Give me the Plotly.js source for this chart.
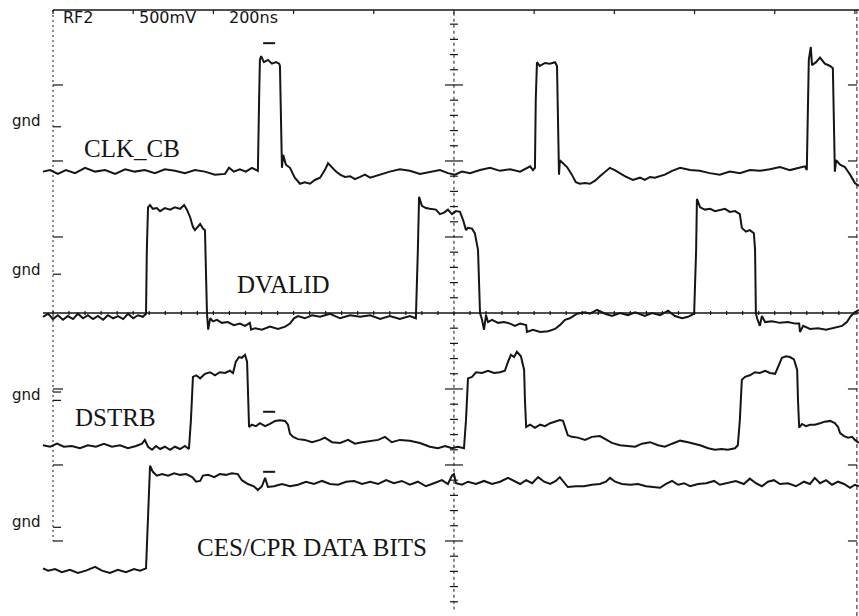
<!DOCTYPE html>
<html><head><meta charset="utf-8">
<script src="https://cdn.plot.ly/plotly-3.0.1.min.js"></script>
<style>html,body{margin:0;padding:0;background:#fff}#chart{width:859px;height:616px}</style>
</head><body><div id="chart"></div>
<script>
// Time in ns (200 ns/div). Level in screen divisions (500 mV/div, 0 = screen centre line).
const clkT = [-25,-7,12,32,55,80,105,130,155,180, 204,229,254,279,304,329,354,379,404,429,
  439,451,466,481,496,506,511,514,516,519, 526,536,546,556,564,566,569,571,574,581,
  591,603,616,628,641,653,666,678,686,696, 706,716,728,741,753,766,778,791,803,815,
  840,865,890,915,940,965,985,1002,1020,1040, 1065,1090,1115,1140,1165,1190,1197,1202,1204,1207,
  1214,1227,1239,1252,1257,1259,1262,1264,1272,1282, 1294,1304,1314,1327,1339,1352,1364,1377,1389,1401,
  1414,1426,1446,1464,1476,1489,1501,1514,1526,1544, 1564,1589,1613,1638,1663,1688,1713,1738,1763,1788,
  1813,1838,1863,1875,1880,1883,1885,1890,1893,1903, 1913,1925,1938,1945,1948,1950,1953,1963,1975,1988,
  2000,2010];
const clkV = [1.86,1.88,1.83,1.88,1.84,1.91,1.86,1.88,1.83,1.89, 1.86,1.88,1.84,1.89,1.87,1.84,1.88,1.86,1.82,1.83,
  1.91,1.86,1.89,1.86,1.91,1.88,1.87,2.80,3.33,3.38, 3.30,3.33,3.28,3.30,3.28,3.25,2.54,1.91,2.08,1.95,
  1.91,1.78,1.70,1.72,1.70,1.75,1.78,1.88,1.97,1.91, 1.86,1.82,1.79,1.80,1.76,1.79,1.82,1.78,1.80,1.82,
  1.86,1.89,1.87,1.83,1.86,1.88,1.84,1.82,1.86,1.84, 1.88,1.91,1.87,1.89,1.86,1.93,1.88,1.91,2.80,3.30,
  3.25,3.29,3.28,3.30,3.25,2.54,1.82,2.01,1.97,1.92, 1.82,1.72,1.70,1.71,1.70,1.74,1.80,1.86,1.91,1.88,
  1.84,1.80,1.75,1.78,1.75,1.79,1.78,1.80,1.82,1.87, 1.91,1.88,1.87,1.84,1.82,1.86,1.84,1.88,1.87,1.89,
  1.92,1.88,1.91,1.93,1.88,2.80,3.33,3.50,3.26,3.30, 3.36,3.28,3.25,3.22,2.54,1.86,2.01,1.95,1.92,1.82,
  1.71,1.67];

const dvT = [-25,-12,0,12,25,37,50,62,75,87, 100,112,125,137,150,162,175,187,200,212,
  224,232,234,237,242,249,259,267,279,292, 304,317,327,334,342,349,354,362,367,374,
  379,382,384,387,392,399,409,421,436,451, 466,479,491,494,504,521,541,561,579,591,
  601,611,628,646,666,691,716,741,766,791, 816,840,865,890,905,910,913,920,930,940,
  955,965,975,985,995,1005,1015,1023,1030,1035, 1045,1052,1060,1065,1070,1075,1080,1085,1095,1110,
  1125,1140,1152,1165,1180,1182,1197,1215,1235,1252, 1264,1277,1289,1307,1327,1339,1357,1377,1394,1414,
  1434,1452,1476,1494,1514,1534,1551,1569,1584,1599, 1604,1606,1614,1626,1639,1651,1664,1676,1688,1701,
  1713,1718,1728,1738,1748,1751,1753,1756,1763,1768, 1776,1793,1813,1833,1851,1861,1863,1871,1888,1908,
  1928,1948,1968,1980,1990,2000,2010];
const dvV = [-0.05,-0.01,-0.08,-0.03,-0.09,-0.04,-0.08,-0.01,-0.07,-0.03, -0.08,-0.04,-0.09,-0.03,-0.07,-0.04,-0.08,-0.01,-0.07,-0.03,
  -0.05,-0.01,0.83,1.39,1.42,1.37,1.38,1.34,1.38,1.36, 1.39,1.37,1.42,1.36,1.26,1.13,1.09,1.14,1.17,1.11,
  1.09,0.43,0,-0.22,-0.07,-0.11,-0.09,-0.13,-0.12,-0.16, -0.14,-0.17,-0.13,-0.22,-0.20,-0.22,-0.18,-0.21,-0.18,-0.14,
  -0.07,-0.04,-0.07,-0.03,-0.05,-0.01,-0.07,-0.03,-0.05,-0.03, -0.08,-0.04,-0.08,-0.04,-0.07,0.83,1.53,1.41,1.38,1.37,
  1.36,1.30,1.32,1.36,1.30,1.34,1.33,1.22,1.09,1.12, 1.11,1.05,0.83,0,-0.09,-0.22,-0.03,-0.12,-0.09,-0.13,
  -0.12,-0.14,-0.17,-0.14,-0.16,-0.25,-0.22,-0.25,-0.24,-0.21, -0.16,-0.09,-0.07,-0.01,0.01,-0.01,0.04,-0.01,-0.04,0,
  -0.03,0.01,-0.04,0,-0.03,0.03,-0.04,-0.07,-0.05,-0.01, 0.83,1.50,1.39,1.36,1.37,1.34,1.36,1.37,1.33,1.34,
  1.30,1.12,1.07,1.09,1.05,0.83,0,-0.07,-0.17,-0.04, -0.12,-0.11,-0.13,-0.12,-0.14,-0.14,-0.25,-0.17,-0.21,-0.20,
  -0.22,-0.20,-0.17,-0.12,-0.04,0.01,0.04];

const dsT = [-25,-7,10,27,47,67,87,107,127,147, 167,187,207,222,229,237,247,257,267,279,
  292,304,317,329,339,344,349,357,367,379, 392,404,416,429,441,449,456,464,471,479,
  484,486,489,496,506,516,529,541,554,566, 579,586,591,599,611,628,646,666,678,696,
  716,736,753,771,791,811,828,845,865,890, 915,940,960,978,995,1010,1025,1030,1035,1045,
  1055,1070,1085,1100,1115,1127,1135,1142,1150,1157, 1167,1175,1177,1180,1190,1202,1215,1227,1240,1252,
  1264,1272,1277,1284,1294,1309,1327,1344,1364,1379, 1394,1414,1434,1452,1469,1489,1509,1526,1544,1564,
  1584,1601,1614,1634,1651,1668,1683,1701,1708,1713, 1718,1726,1738,1751,1763,1776,1788,1801,1808,1818,
  1828,1838,1848,1856,1858,1861,1868,1878,1888,1900, 1913,1925,1938,1950,1958,1963,1973,1983,1993,2000,
  2010];
const dsV = [-1.74,-1.76,-1.72,-1.76,-1.75,-1.78,-1.74,-1.76,-1.72,-1.76, -1.74,-1.78,-1.75,-1.72,-1.67,-1.76,-1.80,-1.75,-1.79,-1.76,
  -1.80,-1.76,-1.79,-1.75,-1.79,-1.41,-0.84,-0.82,-0.86,-0.80, -0.78,-0.82,-0.78,-0.79,-0.76,-0.79,-0.64,-0.58,-0.59,-0.55,
  -0.64,-1.14,-1.50,-1.47,-1.49,-1.45,-1.49,-1.46,-1.42,-1.41, -1.42,-1.47,-1.59,-1.63,-1.66,-1.67,-1.70,-1.67,-1.64,-1.70,
  -1.71,-1.67,-1.72,-1.70,-1.68,-1.67,-1.63,-1.70,-1.67,-1.68, -1.71,-1.76,-1.78,-1.75,-1.78,-1.76,-1.78,-1.41,-0.86,-0.84,
  -0.78,-0.79,-0.76,-0.79,-0.78,-0.76,-0.64,-0.55,-0.58,-0.51, -0.57,-0.75,-1.14,-1.50,-1.47,-1.51,-1.47,-1.49,-1.45,-1.43,
  -1.41,-1.42,-1.51,-1.61,-1.63,-1.64,-1.67,-1.63,-1.62,-1.67, -1.71,-1.74,-1.75,-1.76,-1.72,-1.70,-1.74,-1.76,-1.72,-1.68,
  -1.70,-1.72,-1.74,-1.78,-1.80,-1.79,-1.80,-1.78,-1.74,-1.41, -0.88,-0.84,-0.82,-0.78,-0.79,-0.76,-0.79,-0.80,-0.72,-0.59,
  -0.57,-0.58,-0.61,-0.75,-1.14,-1.51,-1.46,-1.49,-1.47,-1.47, -1.45,-1.43,-1.42,-1.45,-1.50,-1.58,-1.62,-1.64,-1.63,-1.67,
  -1.71];

const cesT = [-25,-12,5,22,42,62,82,105,122,142, 162,182,202,217,232,237,242,249,259,272,
  287,302,317,332,347,357,367,374,387,402, 416,431,446,461,471,486,501,511,521,529,
  536,551,571,591,611,631,651,671,691,711, 731,751,771,791,811,831,850,870,890,910,
  930,950,970,985,995,1000,1005,1020,1035,1055, 1075,1095,1115,1135,1150,1165,1180,1195,1210,1225,
  1240,1254,1264,1274,1284,1304,1324,1344,1364,1379, 1389,1402,1419,1439,1459,1479,1499,1514,1529,1544,
  1559,1574,1589,1609,1629,1649,1663,1683,1703,1723, 1738,1753,1768,1783,1798,1813,1833,1853,1873,1888,
  1900,1913,1928,1943,1958,1973,1988,2000,2010];
const cesV = [-3.36,-3.39,-3.37,-3.41,-3.38,-3.42,-3.39,-3.34,-3.39,-3.42, -3.38,-3.41,-3.37,-3.39,-3.36,-2.72,-2.01,-2.09,-2.14,-2.12,
  -2.14,-2.11,-2.13,-2.12,-2.16,-2.22,-2.21,-2.14,-2.13,-2.16, -2.12,-2.13,-2.11,-2.12,-2.20,-2.25,-2.28,-2.33,-2.28,-2.17,
  -2.29,-2.28,-2.25,-2.28,-2.26,-2.22,-2.25,-2.21,-2.25,-2.26, -2.22,-2.21,-2.25,-2.22,-2.25,-2.20,-2.24,-2.21,-2.26,-2.22,
  -2.28,-2.24,-2.20,-2.25,-2.14,-2.12,-2.24,-2.26,-2.22,-2.25, -2.21,-2.25,-2.22,-2.17,-2.21,-2.25,-2.20,-2.24,-2.16,-2.22,
  -2.25,-2.21,-2.16,-2.22,-2.29,-2.28,-2.28,-2.26,-2.25,-2.22, -2.17,-2.22,-2.25,-2.26,-2.25,-2.28,-2.29,-2.30,-2.25,-2.21,
  -2.26,-2.24,-2.28,-2.25,-2.24,-2.21,-2.26,-2.24,-2.21,-2.25, -2.18,-2.24,-2.28,-2.22,-2.20,-2.25,-2.24,-2.28,-2.22,-2.25,
  -2.17,-2.24,-2.20,-2.26,-2.22,-2.25,-2.30,-2.26,-2.28];

const signalLabels = ["CLK_CB", "DVALID", "DSTRB", "CES/CPR DATA BITS"];
const headerTexts = ["RF2", "500mV", "200ns"];
const gndLevels = [2.53, 0.57, -1.08, -2.75];      // where each "gnd" label sits
const gndTicks = [2.45, 0.51, -1.04, -1.15, -2.82]; // ground reference marks on left frame
const cursorLevels = [3.55, -1.30, -2.09];         // short cursor dashes near t≈540 ns

// ---- layout helpers (pixel sizes converted to data units) ----
const NSPX = 2.494, DVPX = 1 / 76;
function segs(list) {
  const x = [], y = [];
  list.forEach(s => { x.push(s[0], s[2], null); y.push(s[1], s[3], null); });
  return {x, y};
}
const tickSegs = [];
for (let k = -19; k <= 19; k++) {            // centre vertical graticule ticks
  const v = k * 0.2, h = (k % 5 === 0 ? 9 : 4) * NSPX;
  if (k !== 0) tickSegs.push([1000 - h, v, 1000 + h, v]);
}
for (let k = 0; k <= 50; k++) {              // centre horizontal graticule ticks
  const t = k * 40; tickSegs.push([t, -2 * DVPX, t, 2 * DVPX]);
}
for (let d = -3; d <= 3; d++) {              // frame ticks
  if (d === 0) continue;
  tickSegs.push([0, d, 10 * NSPX, d]);
  tickSegs.push([2005 - 9 * NSPX, d, 2005, d]);
}
for (let k = 0; k <= 10; k++) tickSegs.push([k * 200, 3.987, k * 200, 3.987 - 4 * DVPX]);
gndTicks.forEach(g => tickSegs.push([0, g, 8 * NSPX, g]));
const ticks = segs(tickSegs);

const cursors = segs(cursorLevels.map(c => [524, c, 554, c]));

const INK = '#151515';
const traces = [
  {x: ticks.x, y: ticks.y, mode: 'lines', line: {color: INK, width: 1.2}, hoverinfo: 'skip'},
  {x: [0, 2010], y: [3.987, 3.987], mode: 'lines', line: {color: INK, width: 1.6}, hoverinfo: 'skip'},
  {x: [0, 0], y: [3.987, -3.0], mode: 'lines', line: {color: INK, width: 1, dash: '2px,3px'}, hoverinfo: 'skip'},
  {x: [2005, 2005], y: [3.987, -3.99], mode: 'lines', line: {color: INK, width: 1, dash: '4px,3px'}, hoverinfo: 'skip'},
  {x: [1000, 1000], y: [3.95, -3.9], mode: 'lines', line: {color: INK, width: 1, dash: '3px,3px'}, hoverinfo: 'skip'},
  {x: [-25, 2010], y: [0, 0], mode: 'lines', line: {color: INK, width: 1.6}, hoverinfo: 'skip'},
  {x: cursors.x, y: cursors.y, mode: 'lines', line: {color: INK, width: 2}, hoverinfo: 'skip'},
  {x: clkT, y: clkV, mode: 'lines', line: {color: INK, width: 2}, name: signalLabels[0]},
  {x: dvT, y: dvV, mode: 'lines', line: {color: INK, width: 2}, name: signalLabels[1]},
  {x: dsT, y: dsV, mode: 'lines', line: {color: INK, width: 2}, name: signalLabels[2]},
  {x: cesT, y: cesV, mode: 'lines', line: {color: INK, width: 2}, name: signalLabels[3]}
];

const serif = {family: 'Liberation Serif, serif', size: 25, color: INK};
const scope = {family: 'DejaVu Sans, sans-serif', size: 16, color: INK};
const labelPos = [[197, 2.17], [576, 0.37], [156, -1.38], [646, -3.09]];
const headerPos = [20, 209, 434];
const annotations = [];
signalLabels.forEach((s, i) => annotations.push({x: labelPos[i][0], y: labelPos[i][1], text: s,
  showarrow: false, xanchor: 'center', yanchor: 'middle', font: serif}));
headerTexts.forEach((s, i) => annotations.push({x: headerPos[i], y: 3.89, text: s,
  showarrow: false, xanchor: 'left', yanchor: 'middle', font: scope}));
gndLevels.forEach(g => annotations.push({x: -25, y: g, text: 'gnd', showarrow: false,
  xanchor: 'right', yanchor: 'middle', font: {family: 'DejaVu Sans, sans-serif', size: 15, color: INK}}));

const layout = {
  width: 859, height: 616,
  margin: {l: 0, r: 0, t: 0, b: 0, pad: 0},
  paper_bgcolor: '#ffffff', plot_bgcolor: '#ffffff',
  showlegend: false,
  xaxis: {range: [-132.2, 2010.2], visible: false, fixedrange: true},
  yaxis: {range: [-3.987, 4.118], visible: false, fixedrange: true},
  annotations: annotations
};
Plotly.newPlot('chart', traces, layout, {displayModeBar: false, staticPlot: true});
</script>
</body></html>
